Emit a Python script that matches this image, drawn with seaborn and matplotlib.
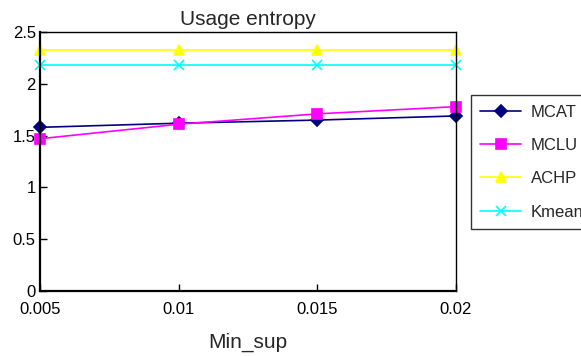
import numpy as np
import pandas as pd
import matplotlib
matplotlib.use('Agg')
import matplotlib.pyplot as plt
import seaborn as sns

# Data
min_sup = [0.005, 0.01, 0.015, 0.02]
mcat = [1.58, 1.62, 1.65, 1.69]
mclu = [1.47, 1.61, 1.71, 1.78]
achp = [2.33, 2.33, 2.33, 2.33]
kmeans = [2.18, 2.18, 2.18, 2.18]

series_names = ['MCAT', 'MCLU', 'ACHP', 'Kmeans']
series_vals = [mcat, mclu, achp, kmeans]

colors = {'MCAT': '#000080', 'MCLU': '#FF00FF', 'ACHP': '#FFFF00', 'Kmeans': '#00FFFF'}
markers = {'MCAT': 'D', 'MCLU': 's', 'ACHP': '^', 'Kmeans': 'x'}
msizes = {'MCAT': 6, 'MCLU': 6.5, 'ACHP': 7, 'Kmeans': 7}

sns.set_style('white')
plt.rcParams['font.family'] = ['Liberation Sans', 'DejaVu Sans']

fig = plt.figure(figsize=(5.81, 3.56), dpi=100)
ax = fig.add_axes([0.0688, 0.1826, 0.716, 0.7274])

for name, vals in zip(series_names, series_vals):
    sns.lineplot(x=min_sup, y=vals, color=colors[name], marker=markers[name],
                 markersize=msizes[name], markeredgewidth=1.2, markeredgecolor=colors[name],
                 linewidth=1.2, label=name, ax=ax)

ax.set_xlim(0.005, 0.02)
ax.set_ylim(0, 2.5)
ax.set_xticks([0.005, 0.01, 0.015, 0.02])
ax.set_xticklabels(['0.005', '0.01', '0.015', '0.02'])
ax.set_yticks([0, 0.5, 1, 1.5, 2, 2.5])
ax.set_yticklabels(['0', '0.5', '1', '1.5', '2', '2.5'])
ax.tick_params(direction='in', length=5, width=1, labelsize=12, colors='black',
               top=False, right=False, left=True, bottom=True)
ax.tick_params(axis='x', pad=8)
ax.tick_params(axis='y', pad=3)
for s in ax.spines.values():
    s.set_color('black')
    s.set_linewidth(1)
for s in ['left', 'bottom']:
    ax.spines[s].set_linewidth(1.6)
for line in ax.lines:
    line.set_clip_on(False)

ax.set_title('Usage entropy', fontsize=15, pad=5)
ax.set_xlabel('Min_sup', fontsize=15, labelpad=11)
ax.set_ylabel('')

# legend runs off the right edge, like the original
leg = ax.legend(loc='upper left', bbox_to_anchor=(1.035, 0.755),
                fontsize=12, frameon=True, fancybox=False, edgecolor='black',
                handlelength=2.5, labelspacing=1.1, borderpad=0.55,
                handletextpad=0.55, borderaxespad=0)
leg.get_frame().set_linewidth(1.0)

fig.savefig('out.png', dpi=100)
